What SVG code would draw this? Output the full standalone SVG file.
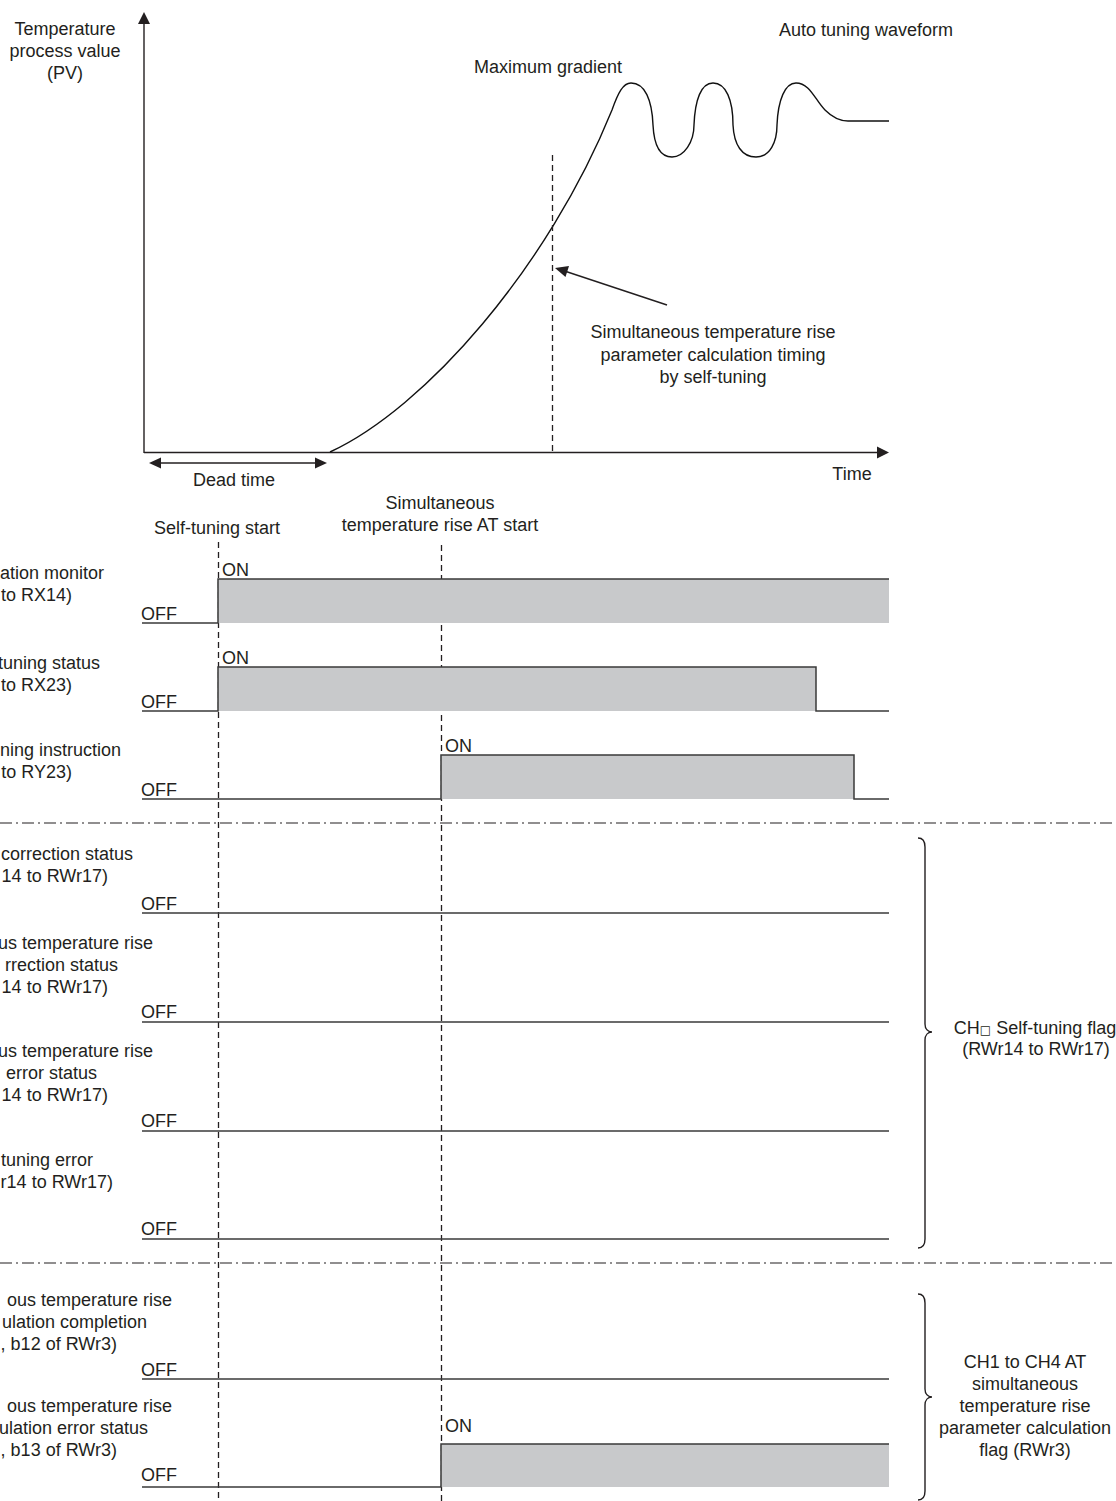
<svg xmlns="http://www.w3.org/2000/svg" width="1116" height="1501" viewBox="0 0 1116 1501">
<style>
text{font-family:"Liberation Sans",Arial,sans-serif;font-size:18px;fill:#231f20}
.e{text-anchor:end}
.m{text-anchor:middle}
.ln{fill:none;stroke:#231f20;stroke-width:1.4}
.sig{fill:none;stroke:#3a3a3a;stroke-width:1.5}
.fill{fill:#c8c9cb;stroke:none}
.dash{fill:none;stroke:#231f20;stroke-width:1.3;stroke-dasharray:6 4}
.dd{fill:none;stroke:#231f20;stroke-width:1.2;stroke-dasharray:12 4 2 4}
.ah{fill:#231f20}
</style>
<rect width="1116" height="1501" fill="#ffffff"/>

<g id="graph">
  <line class="ln" x1="144" y1="22" x2="144" y2="453"/>
  <polygon class="ah" points="144,12 138,24 150,24"/>
  <line class="ln" x1="144" y1="452.5" x2="880" y2="452.5"/>
  <polygon class="ah" points="889,452.5 877,446.5 877,458.5"/>
  <text class="m" x="65" y="35">Temperature</text>
  <text class="m" x="65" y="57">process value</text>
  <text class="m" x="65" y="79">(PV)</text>
  <text class="m" x="866" y="36">Auto tuning waveform</text>
  <text x="474" y="73">Maximum gradient</text>
  <text class="m" x="852" y="480">Time</text>
  <path fill="none" stroke="#111" stroke-width="1.4" d="M330,452 C425,408 548,268 612,110 C618,93 623,83 631,83 C645,83 652,100 653,125 C654,145 660,157 672,157 C684,157 694,142 694,125 C695,100 701,83 713,83 C726,83 733,100 733,125 C734,145 742,157 756,157 C770,157 777,142 777,125 C778,100 785,83 796,83 C810,83 815,100 825,110 C833,118 840,121 848,121 L889,121"/>
  <line class="dash" x1="552.5" y1="155" x2="552.5" y2="452"/>
  <text class="m" x="713" y="338">Simultaneous temperature rise</text>
  <text class="m" x="713" y="361">parameter calculation timing</text>
  <text class="m" x="713" y="383">by self-tuning</text>
</g>

<g id="deadtime">
  <text class="m" x="234" y="486">Dead time</text>
</g>

<g id="markers">
  <text class="m" x="217" y="534">Self-tuning start</text>
  <text class="m" x="440" y="509">Simultaneous</text>
  <text class="m" x="440" y="531">temperature rise AT start</text>
  <line class="dash" x1="218.5" y1="542" x2="218.5" y2="1501"/>
  <line class="dash" x1="441.5" y1="545" x2="441.5" y2="1501"/>
  <line class="dd" x1="0" y1="823" x2="1116" y2="823"/>
  <line class="dd" x1="0" y1="1263" x2="1116" y2="1263"/>
</g>

<g id="row1">
  <rect class="fill" x="218" y="579" width="671" height="44"/>
  <path class="sig" d="M142,623 H218 V579 H889"/>
  <text class="e" x="104" y="579">ation monitor</text>
  <text class="e" x="72" y="601">to RX14)</text>
  <text x="141" y="620">OFF</text>
  <text x="222" y="576">ON</text>
</g>

<g id="row2">
  <rect class="fill" x="218" y="667" width="598" height="44"/>
  <path class="sig" d="M142,711 H218 V667 H816 V711 H889"/>
  <text class="e" x="100" y="669">tuning status</text>
  <text class="e" x="72" y="691">to RX23)</text>
  <text x="141" y="708">OFF</text>
  <text x="222" y="664">ON</text>
</g>

<g id="row3">
  <rect class="fill" x="441" y="755" width="413" height="44"/>
  <path class="sig" d="M142,799 H441 V755 H854 V799 H889"/>
  <text class="e" x="121" y="756">ning instruction</text>
  <text class="e" x="72" y="778">to RY23)</text>
  <text x="141" y="796">OFF</text>
  <text x="445" y="752">ON</text>
</g>

<g id="row4">
  <path class="sig" d="M142,913 H889"/>
  <text class="e" x="133" y="860">correction status</text>
  <text class="e" x="108" y="882">14 to RWr17)</text>
  <text x="141" y="910">OFF</text>
</g>

<g id="row5">
  <path class="sig" d="M142,1022 H889"/>
  <text class="e" x="153" y="949">us temperature rise</text>
  <text class="e" x="118" y="971">rrection status</text>
  <text class="e" x="108" y="993">14 to RWr17)</text>
  <text x="141" y="1018">OFF</text>
</g>

<g id="row6">
  <path class="sig" d="M142,1131 H889"/>
  <text class="e" x="153" y="1057">us temperature rise</text>
  <text class="e" x="97" y="1079">error status</text>
  <text class="e" x="108" y="1101">14 to RWr17)</text>
  <text x="141" y="1127">OFF</text>
</g>

<g id="row7">
  <path class="sig" d="M142,1239 H889"/>
  <text class="e" x="93" y="1166">tuning error</text>
  <text class="e" x="113" y="1188">r14 to RWr17)</text>
  <text x="141" y="1235">OFF</text>
</g>

<g id="row8">
  <path class="sig" d="M142,1379 H889"/>
  <text class="e" x="172" y="1306">ous temperature rise</text>
  <text class="e" x="147" y="1328">ulation completion</text>
  <text class="e" x="117" y="1350">, b12 of RWr3)</text>
  <text x="141" y="1376">OFF</text>
</g>

<g id="row9">
  <rect class="fill" x="441" y="1444" width="448" height="43"/>
  <path class="sig" d="M142,1487 H441 V1444 H889"/>
  <text class="e" x="172" y="1412">ous temperature rise</text>
  <text class="e" x="148" y="1434">ulation error status</text>
  <text class="e" x="117" y="1456">, b13 of RWr3)</text>
  <text x="141" y="1481">OFF</text>
  <text x="445" y="1432">ON</text>
</g>

<g id="brace1">
  <path class="ln" d="M918,838 C923,838 925,841 925,847 L925,1024 C925,1029 928,1032 932,1032 C928,1032 925,1035 925,1040 L925,1239 C925,1245 923,1248 918,1248"/>
  <text class="m" x="1035" y="1034">CH<tspan font-size="12" font-family="DejaVu Sans,sans-serif">□</tspan> Self-tuning flag</text>
  <text class="m" x="1036" y="1055">(RWr14 to RWr17)</text>
</g>

<g id="brace2">
  <path class="ln" d="M918,1294 C923,1294 925,1297 925,1303 L925,1389 C925,1394 928,1397 932,1397 C928,1397 925,1400 925,1405 L925,1491 C925,1497 923,1500 918,1500"/>
  <text class="m" x="1025" y="1368">CH1 to CH4 AT</text>
  <text class="m" x="1025" y="1390">simultaneous</text>
  <text class="m" x="1025" y="1412">temperature rise</text>
  <text class="m" x="1025" y="1434">parameter calculation</text>
  <text class="m" x="1025" y="1456">flag (RWr3)</text>
</g>

<g id="connectors">
  <line class="ln" x1="160" y1="463" x2="316" y2="463"/>
  <polygon class="ah" points="149,463 161,457.5 161,468.5"/>
  <polygon class="ah" points="327,463 315,457.5 315,468.5"/>
  <line class="ln" x1="667" y1="305" x2="566" y2="271.5"/>
  <polygon class="ah" points="555,268 569,266 565.5,277"/>
</g>
</svg>
